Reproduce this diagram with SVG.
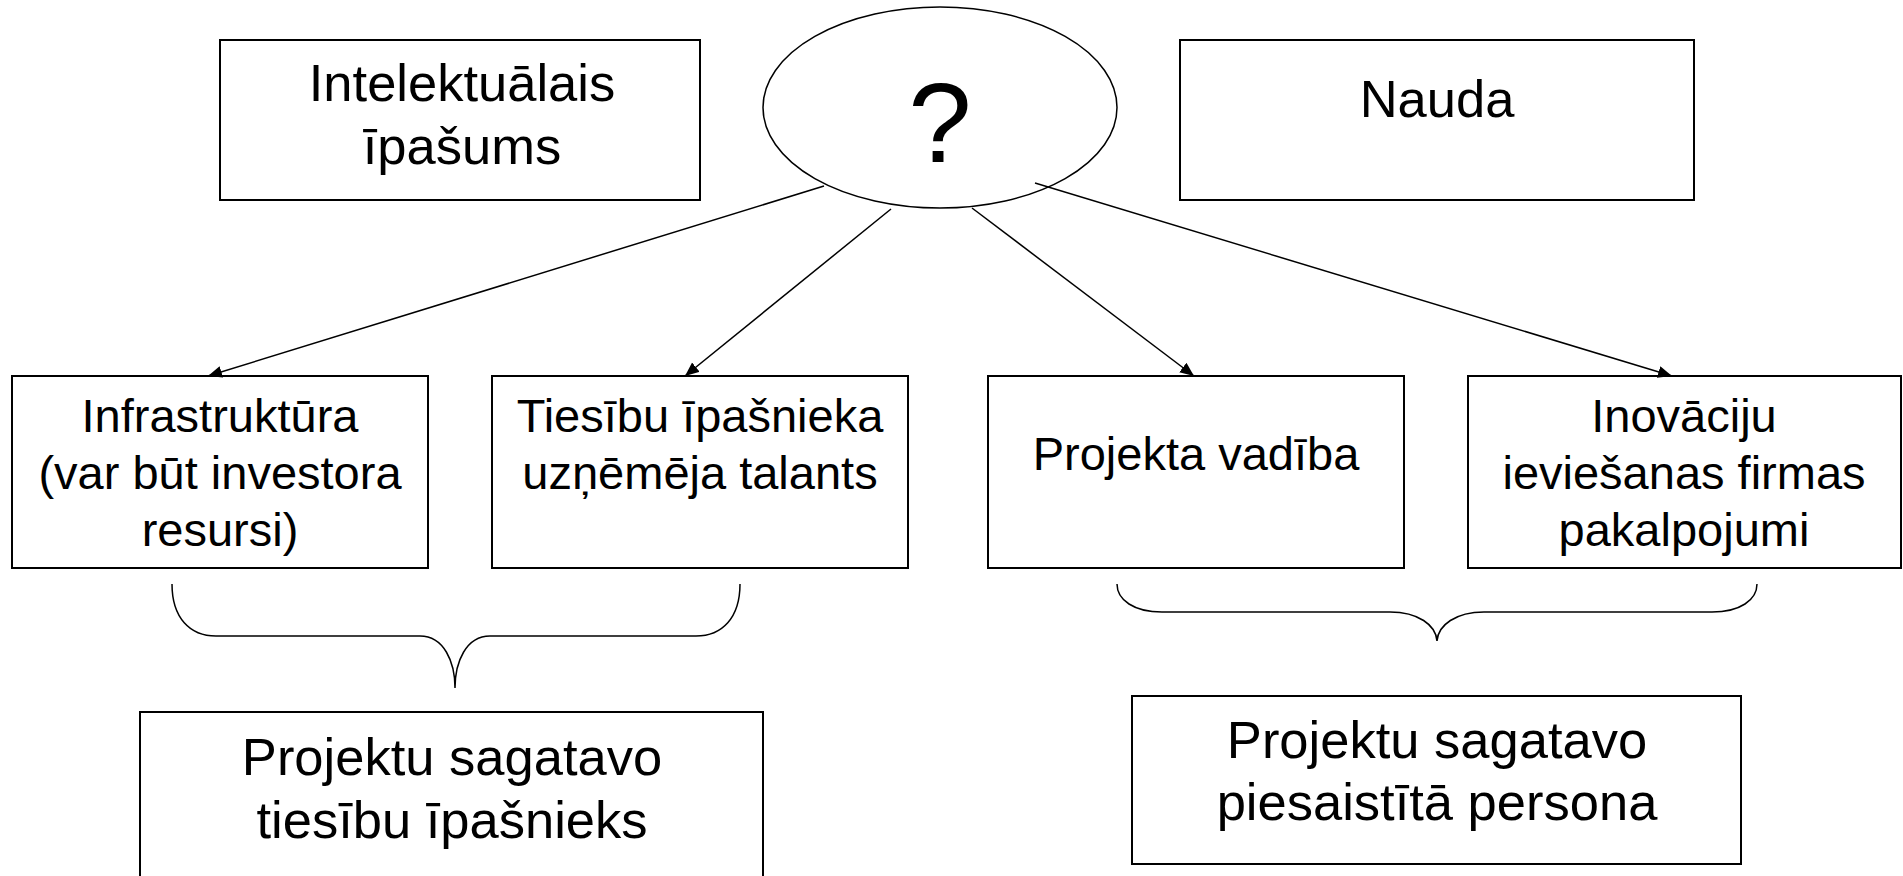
<svg xmlns="http://www.w3.org/2000/svg" width="1903" height="876" viewBox="0 0 1903 876">
<style>
.box{fill:#fff;stroke:#000;stroke-width:2}
.t{font-family:"Liberation Sans",Arial,sans-serif;fill:#000;text-anchor:middle}
.big{font-size:52.5px}
.mid{font-size:47px}
.conn{stroke:#000;stroke-width:1.5;fill:none}
.brace{stroke:#000;stroke-width:1.5;fill:none}
</style>
<defs>
<marker id="ah" markerUnits="userSpaceOnUse" markerWidth="16" markerHeight="14" refX="14" refY="6" orient="auto">
<path d="M0,0 L14,6 L0,12 z" fill="#000"/>
</marker>
</defs>
<rect width="1903" height="876" fill="#fff"/>
<g id="ip">
<rect class="box" x="220" y="40" width="480" height="160"/>
<text class="t big" x="462" y="101">Intelektuālais</text>
<text class="t big" x="462" y="164">īpašums</text>
</g>
<g id="q">
<ellipse cx="940" cy="107.5" rx="177" ry="100.5" fill="#fff" stroke="#000" stroke-width="1.5"/>
<text class="t" x="940" y="162" font-size="114">?</text>
</g>
<g id="nauda">
<rect class="box" x="1180" y="40" width="514" height="160"/>
<text class="t big" x="1437" y="117">Nauda</text>
</g>
<g id="infra">
<rect class="box" x="12" y="376" width="416" height="192"/>
<text class="t mid" x="220" y="432">Infrastruktūra</text>
<text class="t mid" x="220" y="489">(var būt investora</text>
<text class="t mid" x="220" y="546">resursi)</text>
</g>
<g id="talants">
<rect class="box" x="492" y="376" width="416" height="192"/>
<text class="t mid" x="700" y="432">Tiesību īpašnieka</text>
<text class="t mid" x="700" y="489">uzņēmēja talants</text>
</g>
<g id="vadiba">
<rect class="box" x="988" y="376" width="416" height="192"/>
<text class="t mid" x="1196" y="470">Projekta vadība</text>
</g>
<g id="firma">
<rect class="box" x="1468" y="376" width="433" height="192"/>
<text class="t mid" x="1684" y="432">Inovāciju</text>
<text class="t mid" x="1684" y="489">ieviešanas firmas</text>
<text class="t mid" x="1684" y="546">pakalpojumi</text>
</g>
<g id="owner">
<rect class="box" x="140" y="712" width="623" height="200"/>
<text class="t big" x="452" y="775">Projektu sagatavo</text>
<text class="t big" x="452" y="838">tiesību īpašnieks</text>
</g>
<g id="person">
<rect class="box" x="1132" y="696" width="609" height="168"/>
<text class="t big" x="1437" y="758">Projektu sagatavo</text>
<text class="t big" x="1437" y="820">piesaistītā persona</text>
</g>
<g id="connectors">
<line class="conn" x1="824" y1="186" x2="208" y2="376" marker-end="url(#ah)"/>
<line class="conn" x1="891" y1="209" x2="685" y2="376" marker-end="url(#ah)"/>
<line class="conn" x1="972" y1="208" x2="1194" y2="376" marker-end="url(#ah)"/>
<line class="conn" x1="1035" y1="183" x2="1672" y2="376" marker-end="url(#ah)"/>
<path class="brace" d="M172,584 C172,618 190,636 216,636 L420,636 C444,636 455,662 455,688 C455,662 466,636 490,636 L696,636 C722,636 740,618 740,584"/>
<path class="brace" d="M1117,584 C1117,600 1134,612 1162,612 L1390,612 C1418,612 1436,625 1437,641 C1438,625 1456,612 1484,612 L1712,612 C1740,612 1757,600 1757,584"/>
</g>
</svg>
